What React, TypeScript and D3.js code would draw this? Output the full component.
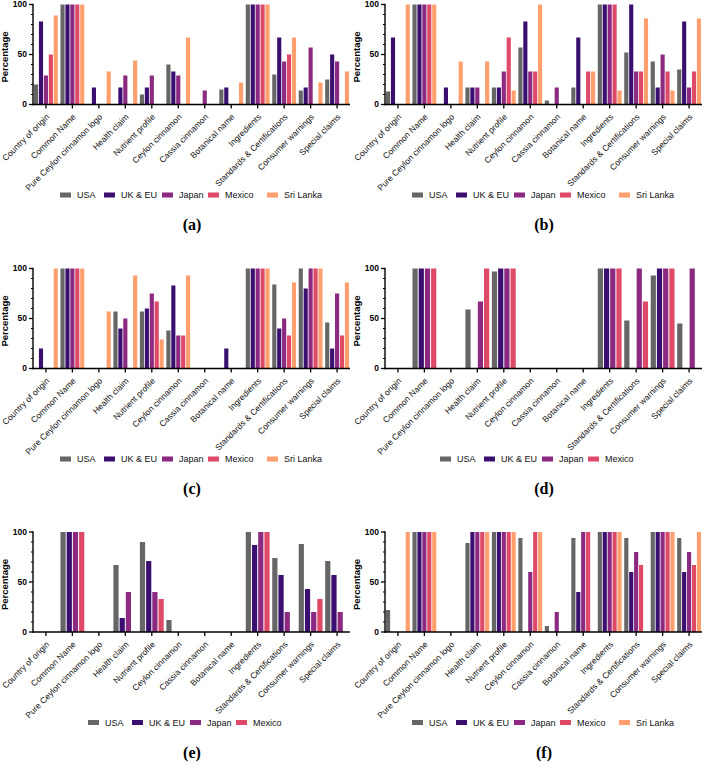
import React from "react";
import * as d3 from "d3";

const categories = [
  "Country of origin",
  "Common Name",
  "Pure Ceylon cinnamon logo",
  "Health claim",
  "Nutrient profile",
  "Ceylon cinnamon",
  "Cassia cinnamon",
  "Botanical name",
  "Ingredients",
  "Standards & Certifications",
  "Consumer warnings",
  "Special claims",
];

const seriesNames = ["USA", "UK & EU", "Japan", "Mexico", "Sri Lanka"];
const seriesColors = ["#666666", "#3b0f70", "#8c2981", "#de4968", "#fe9f6d"];
const yTicks = [0, 50, 100];
const yMinorTicks = [10, 20, 30, 40, 60, 70, 80, 90];

// Panel (a)
const aUSA = [20, 100, 0, 0, 10, 40, 0, 15, 100, 30, 14, 25];
const aUK = [83, 100, 17, 17, 17, 33, 0, 17, 100, 67, 17, 50];
const aJapan = [29, 100, 0, 29, 29, 29, 14, 0, 100, 43, 57, 43];
const aMexico = [50, 100, 0, 0, 0, 0, 0, 0, 100, 50, 0, 0];
const aSriLanka = [89, 100, 33, 44, 0, 67, 0, 22, 100, 67, 22, 33];

// Panel (b)
const bUSA = [13, 100, 0, 17, 17, 57, 4, 17, 100, 52, 43, 35];
const bUK = [67, 100, 17, 17, 17, 83, 0, 67, 100, 100, 17, 83];
const bJapan = [0, 100, 0, 17, 33, 33, 17, 0, 100, 33, 50, 17];
const bMexico = [0, 100, 0, 0, 67, 33, 0, 33, 100, 33, 33, 33];
const bSriLanka = [100, 100, 43, 43, 14, 100, 0, 33, 14, 86, 14, 86];

// Panel (c)
const cUSA = [0, 100, 0, 57, 57, 38, 0, 0, 100, 84, 100, 46];
const cUK = [20, 100, 0, 40, 60, 83, 0, 20, 100, 40, 80, 20];
const cJapan = [0, 100, 0, 50, 75, 33, 0, 0, 100, 50, 100, 75];
const cMexico = [0, 100, 0, 0, 67, 33, 0, 0, 100, 33, 100, 33];
const cSriLanka = [100, 100, 57, 93, 29, 93, 0, 0, 100, 86, 100, 86];

// Panel (d)
const dUSA = [0, 100, 0, 59, 97, 0, 0, 0, 100, 48, 93, 45];
const dUK = [0, 100, 0, 0, 100, 0, 0, 0, 100, 0, 100, 0];
const dJapan = [0, 100, 0, 67, 100, 0, 0, 0, 100, 100, 100, 100];
const dMexico = [0, 100, 0, 100, 100, 0, 0, 0, 100, 67, 100, 0];

// Panel (e)
const eUSA = [0, 100, 0, 67, 90, 12, 0, 0, 100, 74, 88, 71];
const eUK = [0, 100, 0, 14, 71, 0, 0, 0, 87, 57, 43, 57];
const eJapan = [0, 100, 0, 40, 40, 0, 0, 0, 100, 20, 20, 20];
const eMexico = [0, 100, 0, 0, 33, 0, 0, 0, 100, 0, 33, 0];

// Panel (f)
const fUSA = [22, 100, 0, 89, 100, 94, 6, 94, 100, 94, 100, 94];
const fUK = [0, 100, 0, 100, 100, 0, 0, 40, 100, 60, 100, 60];
const fJapan = [0, 100, 0, 100, 100, 60, 20, 100, 100, 80, 100, 80];
const fMexico = [0, 100, 0, 100, 100, 100, 0, 100, 100, 67, 100, 67];
const fSriLanka = [100, 100, 0, 100, 100, 100, 0, 0, 100, 0, 100, 100];

const panels = [
  { label: "(a)", col: 0, row: 0, data: [aUSA, aUK, aJapan, aMexico, aSriLanka] },
  { label: "(b)", col: 1, row: 0, data: [bUSA, bUK, bJapan, bMexico, bSriLanka] },
  { label: "(c)", col: 0, row: 1, data: [cUSA, cUK, cJapan, cMexico, cSriLanka] },
  { label: "(d)", col: 1, row: 1, data: [dUSA, dUK, dJapan, dMexico] },
  { label: "(e)", col: 0, row: 2, data: [eUSA, eUK, eJapan, eMexico] },
  { label: "(f)", col: 1, row: 2, data: [fUSA, fUK, fJapan, fMexico, fSriLanka] },
];

const COL_X = [0, 352];
const ROW_Y = [0, 264, 527.5];
const AXIS_X = 33;
const PLOT_TOP = 4.5;
const PLOT_BOTTOM = 104.5;
const AXIS_END = 350;
const SANS = "'Liberation Sans', Arial, sans-serif";

const legend5 = [60, 104, 162, 208, 267];
const legend4 = [88, 132, 190, 236];

function Panel({ p }: { p: any }) {
  const ox = COL_X[p.col];
  const oy = ROW_Y[p.row];
  const nSeries = p.data.length;
  const names = seriesNames.slice(0, nSeries);
  const x = d3.scaleBand<string>().domain(categories).range([AXIS_X + 1, AXIS_END - 1]).paddingInner(0.1).paddingOuter(0);
  const xs = d3.scaleBand<string>().domain(names).range([0, x.bandwidth()]).paddingInner(0.16).paddingOuter(0);
  const y = d3.scaleLinear().domain([0, 100]).range([PLOT_BOTTOM, PLOT_TOP]);
  const legendX = nSeries === 5 ? legend5 : legend4;

  return (
    <g transform={`translate(${ox},${oy})`}>
      {p.data.map((vals: number[], si: number) => (
        <g key={si} fill={seriesColors[si]}>
          {vals.map((v, ci) =>
            v > 0 ? (
              <rect
                key={ci}
                x={(x(categories[ci]) as number) + (xs(names[si]) as number)}
                y={y(v)}
                width={xs.bandwidth()}
                height={y(0) - y(v)}
              />
            ) : null
          )}
        </g>
      ))}
      {/* y axis */}
      <line x1={AXIS_X} x2={AXIS_X} y1={y(100) - 0.7} y2={y(0) + 0.7} stroke="#000" strokeWidth={1.4} />
      {yTicks.map((t) => (
        <g key={t}>
          <line x1={AXIS_X - 4} x2={AXIS_X} y1={y(t)} y2={y(t)} stroke="#000" strokeWidth={1.3} />
          <text x={AXIS_X - 6} y={y(t)} dy="0.35em" textAnchor="end" fontFamily={SANS} fontWeight="bold" fontSize={8.5}>
            {t}
          </text>
        </g>
      ))}
      {yMinorTicks.map((t) => (
        <line key={t} x1={AXIS_X - 2} x2={AXIS_X} y1={y(t)} y2={y(t)} stroke="#000" strokeWidth={1} />
      ))}
      <text
        transform={`translate(8,57) rotate(-90)`}
        textAnchor="middle"
        fontFamily={SANS}
        fontWeight="bold"
        fontSize={9.5}
      >
        Percentage
      </text>
      {/* x axis */}
      <line x1={AXIS_X - 0.7} x2={AXIS_END} y1={y(0)} y2={y(0)} stroke="#000" strokeWidth={1.4} />
      {categories.map((c) => {
        const cx = (x(c) as number) + x.bandwidth() / 2;
        return (
          <g key={c}>
            <line x1={cx} x2={cx} y1={y(0)} y2={y(0) + 4} stroke="#000" strokeWidth={1.3} />
            <text
              transform={`translate(${cx + 4},${y(0) + 13}) rotate(-45)`}
              textAnchor="end"
              fontFamily={SANS}
              fontSize={8.5}
              fill="#111"
            >
              {c}
            </text>
          </g>
        );
      })}
      {/* legend */}
      {names.map((n, i) => (
        <g key={n}>
          <rect x={legendX[i]} y={192.5} width={11} height={5} fill={seriesColors[i]} />
          <text x={legendX[i] + 17} y={195} dy="0.35em" fontFamily={SANS} fontSize={9} fill="#111">
            {n}
          </text>
        </g>
      ))}
      <text
        x={192}
        y={230}
        textAnchor="middle"
        fontFamily="'Liberation Serif', 'Times New Roman', serif"
        fontWeight="bold"
        fontSize={16}
      >
        {p.label}
      </text>
    </g>
  );
}

export default function App() {
  return (
    <svg
      width={705}
      height={769}
      viewBox="0 0 705 769"
      style={{ position: "absolute", left: 0, top: 0, background: "#fff" }}
    >
      <rect width={705} height={769} fill="#fff" />
      {panels.map((p) => (
        <Panel key={p.label} p={p} />
      ))}
    </svg>
  );
}
